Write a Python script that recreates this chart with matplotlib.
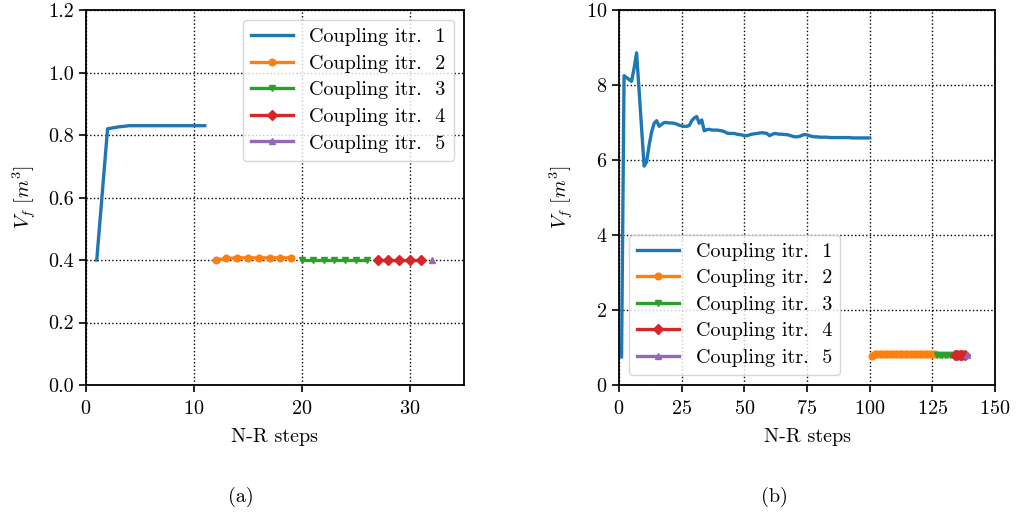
import matplotlib
matplotlib.use("Agg")
import matplotlib.pyplot as plt

plt.rcParams['font.family'] = 'cmr10'
plt.rcParams['mathtext.fontset'] = 'cm'
plt.rcParams['axes.formatter.use_mathtext'] = True
plt.rcParams['font.size'] = 14.5

labels = ["Coupling itr.  1", "Coupling itr.  2", "Coupling itr.  3",
          "Coupling itr.  4", "Coupling itr.  5"]
markers = [None, "o", "v", "D", "^"]
colors = ["tab:blue", "tab:orange", "tab:green", "tab:red", "tab:purple"]

# (a) steps and volumes for each coupling iteration
a_x1 = list(range(1, 12))
a_y1 = [0.40, 0.82, 0.826, 0.83, 0.83, 0.83, 0.83, 0.83, 0.83, 0.83, 0.83]
a_x2 = list(range(12, 20))
a_y2 = [0.40, 0.405, 0.407, 0.407, 0.407, 0.407, 0.407, 0.407]
a_x3 = list(range(20, 27))
a_y3 = [0.40] * 7
a_x4 = list(range(27, 32))
a_y4 = [0.40] * 5
a_x5 = [32]
a_y5 = [0.40]

# (b)
b_x1 = list(range(1, 101))
b_y1 = [0.75, 8.25, 8.20, 8.15, 8.10, 8.45, 8.86, 7.85, 6.85, 5.84,
        5.95, 6.40, 6.75, 6.98, 7.05, 6.90, 6.95, 7.00, 7.00, 6.99,
        6.99, 6.98, 6.96, 6.93, 6.91, 6.90, 6.90, 6.92, 7.05, 7.12,
        7.16, 6.98, 7.07, 6.78, 6.81, 6.82, 6.80, 6.80, 6.80, 6.79,
        6.78, 6.76, 6.72, 6.71, 6.71, 6.71, 6.69, 6.68, 6.67, 6.65,
        6.65, 6.67, 6.69, 6.70, 6.71, 6.72, 6.73, 6.72, 6.71, 6.65,
        6.68, 6.71, 6.70, 6.69, 6.69, 6.68, 6.68, 6.66, 6.64, 6.62,
        6.62, 6.63, 6.66, 6.68, 6.67, 6.65, 6.63, 6.62, 6.62, 6.61,
        6.61, 6.61, 6.61, 6.60, 6.60, 6.60, 6.60, 6.60, 6.60, 6.60,
        6.60, 6.60, 6.59, 6.59, 6.59, 6.59, 6.59, 6.59, 6.59, 6.59]
b_x2 = list(range(101, 127))
b_y2 = [0.78] + [0.82] * 25
b_x3 = list(range(127, 134))
b_y3 = [0.81] * 7
b_x4 = list(range(134, 139))
b_y4 = [0.81] * 5
b_x5 = [139]
b_y5 = [0.81]

fig = plt.figure(figsize=(10.16, 5.2), dpi=100)
ax1 = fig.add_axes([0.0846, 0.2596, 0.372, 0.721])
ax2 = fig.add_axes([0.6093, 0.2596, 0.370, 0.721])

series_a = [(a_x1, a_y1), (a_x2, a_y2), (a_x3, a_y3), (a_x4, a_y4), (a_x5, a_y5)]
series_b = [(b_x1, b_y1), (b_x2, b_y2), (b_x3, b_y3), (b_x4, b_y4), (b_x5, b_y5)]

for ax, series in [(ax1, series_a), (ax2, series_b)]:
    for (xs, ys), lab, m, c in zip(series, labels, markers, colors):
        ax.plot(xs, ys, label=lab, marker=m, color=c, lw=2.4, ms=4.8)
    ax.grid(True, linestyle=':', color='black', linewidth=1.0)
    ax.set_xlabel("N-R steps", labelpad=7)
    ax.set_ylabel(r"$V_f\ [m^3]$", labelpad=7)
    ax.tick_params(direction='out', length=5, width=1.2, labelsize=14.5)
    ax.tick_params(axis='x', pad=6)
    for s in ax.spines.values():
        s.set_linewidth(1.3)

ax1.set_xlim(0, 35)
ax1.set_ylim(0, 1.2)
ax1.set_xticks([0, 10, 20, 30])
ax1.set_yticks([0.0, 0.2, 0.4, 0.6, 0.8, 1.0, 1.2])
ax1.set_yticklabels(["0.0", "0.2", "0.4", "0.6", "0.8", "1.0", "1.2"])
ax1.legend(loc='upper right', handlelength=2.1, labelspacing=0.42)

ax2.set_xlim(0, 150)
ax2.set_ylim(0, 10)
ax2.set_xticks([0, 25, 50, 75, 100, 125, 150])
ax2.set_yticks([0, 2, 4, 6, 8, 10])
ax2.legend(loc='lower left', handlelength=2.1, labelspacing=0.42)

fig.text(0.237, 0.044, "(a)", ha='center', va='center', fontsize=14.5)
fig.text(0.762, 0.044, "(b)", ha='center', va='center', fontsize=14.5)

fig.savefig("out.png", dpi=100)
